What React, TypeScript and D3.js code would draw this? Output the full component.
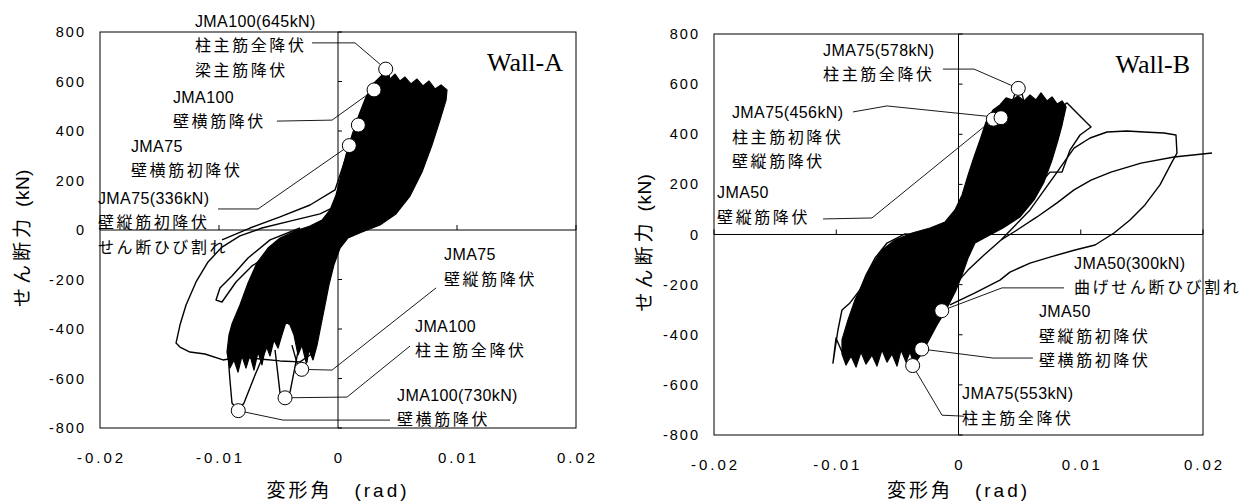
import * as d3 from 'd3';

type Pt = [number, number];

// axis ticks (shared by both walls)
const xTicks = [-0.02, -0.01, 0, 0.01, 0.02];
const xTickLabels = ['-0.02', '-0.01', '0', '0.01', '0.02'];
const yTicks = [-800, -600, -400, -200, 0, 200, 400, 600, 800];
const yTickLabels = ['-800', '-600', '-400', '-200', '0', '200', '400', '600', '800'];

// ---- Wall-A : drift angle (rad), shear force (kN)
// dense band of the many small cycles
const wallACore: Pt[] = [
  [0.00395, 638], [0.00437, 610], [0.00479, 630], [0.00521, 602], [0.00563, 618],
  [0.00613, 590], [0.00664, 610], [0.00714, 582], [0.00765, 602], [0.00815, 570],
  [0.00866, 586], [0.00916, 566], [0.00908, 525], [0.00857, 444], [0.0079, 343],
  [0.00706, 234], [0.00605, 137], [0.00487, 65], [0.00353, 20], [0.00202, -8],
  [0.00084, -32], [0.00017, -73], [-0.00034, -141], [-0.00076, -222], [-0.00109, -303],
  [-0.00143, -384], [-0.00176, -465], [-0.0021, -525], [-0.00244, -485], [-0.00269, -533],
  [-0.00303, -465], [-0.00336, -505], [-0.0037, -424], [-0.00403, -384], [-0.00437, -372],
  [-0.00471, -424], [-0.00504, -477], [-0.00538, -444], [-0.00571, -509], [-0.00605, -465],
  [-0.00639, -545], [-0.00672, -493], [-0.00706, -566], [-0.0074, -505], [-0.00773, -558],
  [-0.00807, -509], [-0.0084, -574], [-0.00874, -525], [-0.00908, -558], [-0.00933, -493],
  [-0.00916, -424], [-0.00891, -380], [-0.00824, -303], [-0.00756, -214], [-0.00681, -133],
  [-0.00588, -73], [-0.00487, -32], [-0.00361, -4], [-0.00235, 16], [-0.00134, 40],
  [-0.00067, 81], [-0.00017, 141], [0.00025, 222], [0.00067, 303], [0.00118, 384],
  [0.00176, 465], [0.00235, 537], [0.00303, 594],
];
const wallALoopBig: Pt[] = [
  [0.00059, -40], [-0.00067, -129], [-0.00134, -283], [-0.00185, -444], [-0.0021, -497],
  [-0.00319, -533], [-0.00487, -529], [-0.00655, -521], [-0.00824, -513], [-0.00966, -525],
  [-0.01118, -501], [-0.01244, -493], [-0.01328, -473], [-0.01361, -457], [-0.01328, -384],
  [-0.01277, -303], [-0.01193, -210], [-0.01092, -129], [-0.00975, -69], [-0.00824, -24],
  [-0.00639, 8], [-0.00403, 36], [-0.00151, 65], [0, 101],
];
const wallALoopNotch: Pt[] = [
  [-0.00319, 8], [-0.00571, -40], [-0.00756, -113], [-0.00891, -186], [-0.00992, -234],
  [-0.01025, -283], [-0.00975, -291], [-0.00857, -210], [-0.00723, -145], [-0.00571, -101],
  [-0.00361, -61], [-0.00067, -20],
];
const wallAReload: Pt[] = [
  [-0.00975, -40], [-0.0074, 8], [-0.00487, 53], [-0.00235, 101], [-0.00025, 162],
  [0.00059, 283], [0.00092, 315],
];
const wallATip730: Pt[] = [
  [-0.00924, -505], [-0.00908, -606], [-0.00891, -699], [-0.0084, -731], [-0.0079, -699],
  [-0.00697, -586], [-0.00597, -473],
];
const wallATipCol: Pt[] = [
  [-0.00529, -485], [-0.00487, -659], [-0.00445, -679], [-0.00403, -655], [-0.00345, -513],
  [-0.00319, -444],
];
const wallATipVert: Pt[] = [
  [-0.00387, -465], [-0.00345, -537], [-0.00303, -562], [-0.00261, -533], [-0.00235, -444],
];
const wallATip645: Pt[] = [[0.00328, 473], [0.0037, 620], [0.00401, 650], [0.0043, 625], [0.00455, 520]];
const wallATipHor: Pt[] = [[0.0027, 440], [0.0029, 540], [0.00303, 566], [0.00325, 540], [0.0034, 470]];
const wallATipFirst: Pt[] = [[0.0013, 330], [0.0016, 400], [0.00171, 424], [0.0019, 400], [0.0021, 340]];
const wallAMarks: Pt[] = [
  [0.00401, 650], [0.00303, 566], [0.00171, 424], [0.00095, 341],
  [-0.00305, -563], [-0.00445, -678], [-0.00838, -730],
];

// ---- Wall-B
const wallBCore: Pt[] = [
  [0.00438, 537], [0.00487, 553], [0.00536, 533], [0.00585, 557], [0.00634, 537],
  [0.00675, 565], [0.00724, 533], [0.00765, 549], [0.00806, 521], [0.00847, 533],
  [0.0088, 509], [0.00847, 437], [0.00814, 377], [0.00765, 297], [0.00699, 209],
  [0.00618, 138], [0.00503, 70], [0.00364, 26], [0.00241, -6], [0.00135, -34],
  [0.00078, -94], [0.00029, -162], [-0.0002, -222], [-0.00102, -301], [-0.00176, -361],
  [-0.0025, -429], [-0.00315, -485], [-0.00364, -517], [-0.00397, -469], [-0.00429, -509],
  [-0.0047, -461], [-0.00503, -525], [-0.00544, -477], [-0.00585, -509], [-0.00626, -461],
  [-0.00667, -525], [-0.00708, -481], [-0.00757, -517], [-0.00798, -469], [-0.00838, -529],
  [-0.00879, -485], [-0.0092, -521], [-0.00953, -477], [-0.00953, -421], [-0.00904, -341],
  [-0.00847, -261], [-0.00781, -194], [-0.00708, -122], [-0.00626, -62], [-0.00519, -22],
  [-0.0038, 6], [-0.00233, 26], [-0.0011, 50], [-0.00029, 98], [0.00029, 158],
  [0.00078, 237], [0.00127, 309], [0.00176, 377], [0.00225, 449], [0.00282, 497],
  [0.00339, 517], [0.00389, 545],
];
const wallBLoopWide: Pt[] = [
  [0.00348, -22], [0.00585, 98], [0.00789, 237], [0.00945, 345], [0.01076, 385],
  [0.01215, 409], [0.01378, 413], [0.01517, 409], [0.01681, 405], [0.01779, 397],
  [0.01787, 325], [0.01746, 289], [0.01648, 198], [0.01525, 118], [0.01403, 58],
  [0.01272, 6], [0.01117, -42], [0.00953, -62], [0.00748, -90], [0.00585, -114],
  [0.00421, -150], [0.00339, -182], [0.00135, -233], [-0.0007, -281],
];
const wallBLoopLast: Pt[] = [
  [0.02074, 325], [0.01763, 309], [0.01493, 285], [0.01247, 249], [0.01084, 217],
  [0.00945, 178], [0.00806, 126], [0.00642, 70], [0.00479, 18], [0.00348, -22],
  [0.00209, -82], [0.00078, -142], [-0.00029, -201], [-0.0011, -261],
];
const wallBLoopJag: Pt[] = [
  [0.00626, 178], [0.00748, 249], [0.00847, 249], [0.00912, 337], [0.00994, 397],
  [0.01084, 429], [0.01002, 469], [0.00888, 525], [0.00831, 505],
];
const wallBLoopNeg: Pt[] = [
  [0, 2], [-0.00233, -2], [-0.00438, 2], [-0.00585, -34], [-0.00683, -94],
  [-0.00757, -162], [-0.00806, -221], [-0.00888, -273], [-0.00953, -301], [-0.00986, -381],
  [-0.01011, -461], [-0.01027, -513], [-0.01002, -413], [-0.00953, -469], [-0.00904, -381],
  [-0.00863, -493],
];
const wallBTip578: Pt[] = [[0.0042, 500], [0.0046, 560], [0.00489, 583], [0.0052, 560], [0.0054, 520]];
const wallBTip456: Pt[] = [[0.0025, 420], [0.00285, 460], [0.00348, 466], [0.0038, 440]];
const wallBTipNeg: Pt[] = [[-0.0012, -290], [-0.0005, -230]];
const wallBTipNeg2: Pt[] = [[-0.0031, -440], [-0.0025, -400]];
const wallBTipNeg3: Pt[] = [[-0.0037, -510], [-0.0034, -470]];
const wallBMarks: Pt[] = [
  [0.00489, 583], [0.00285, 460], [0.00348, 466],
  [-0.00137, -304], [-0.00301, -457], [-0.00375, -523],
];

type Note = { at: Pt; lines: string[]; leader?: Pt[] };

const wallANotes: Note[] = [
  { at: [-0.01202, 844], lines: ['JMA100(645kN)', '柱主筋全降伏', '梁主筋降伏'], leader: [[-0.00218, 756], [0.00143, 756], [0.00401, 650]] },
  { at: [-0.01387, 537], lines: ['JMA100', '壁横筋降伏'], leader: [[-0.00513, 440], [-0.0005, 444], [0.00303, 566]] },
  { at: [-0.0174, 339], lines: ['JMA75', '壁横筋初降伏'] },
  { at: [-0.02017, 129], lines: ['JMA75(336kN)', '壁縦筋初降伏', 'せん断ひび割れ'], leader: [[-0.01008, 85], [-0.00672, 85], [0.00095, 341]] },
  { at: [0.00891, -101], lines: ['JMA75', '壁縦筋降伏'], leader: [[0.00824, -234], [-0.0005, -566], [-0.00305, -563]] },
  { at: [0.00647, -388], lines: ['JMA100', '柱主筋全降伏'], leader: [[0.00605, -469], [0.00076, -675], [-0.00445, -678]] },
  { at: [0.00496, -667], lines: ['JMA100(730kN)', '壁横筋降伏'], leader: [[0.00437, -768], [-0.00462, -768], [-0.00838, -730]] },
];
const wallBNotes: Note[] = [
  { at: [-0.01108, 736], lines: ['JMA75(578kN)', '柱主筋全降伏'], leader: [[-0.00127, 660], [0.00127, 660], [0.00489, 583]] },
  { at: [-0.01853, 485], lines: ['JMA75(456kN)', '柱主筋初降伏', '壁縦筋降伏'], leader: [[-0.00863, 489], [-0.00585, 513], [0.00348, 466]] },
  { at: [-0.01975, 166], lines: ['JMA50', '壁縦筋降伏'], leader: [[-0.01108, 62], [-0.00708, 66], [0.00285, 460]] },
  { at: [0.00945, -114], lines: ['JMA50(300kN)', '曲げせん断ひび割れ'], leader: [[0.00863, -213], [0.00356, -213], [-0.00137, -304]] },
  { at: [0.00658, -309], lines: ['JMA50', '壁縦筋初降伏', '壁横筋初降伏'], leader: [[0.00609, -493], [0.00282, -493], [-0.00301, -457]] },
  { at: [0.00029, -636], lines: ['JMA75(553kN)', '柱主筋全降伏'], leader: [[0.00045, -725], [-0.00135, -721], [-0.00375, -523]] },
];

const SANS = "'Liberation Sans', Arial, 'Noto Sans CJK JP', sans-serif";
const SERIF = "'Liberation Serif', 'Times New Roman', serif";
const CJK = /[\u3000-\u9fff]/;

type Frame = { left: number; right: number; top: number; bottom: number };

function Panel({ frame, core, loops, marks, notes, title, yTitleX }: {
  frame: Frame; core: Pt[]; loops: Pt[][]; marks: Pt[]; notes: Note[]; title: string; yTitleX: number;
}) {
  const x = d3.scaleLinear().domain([-0.02, 0.02]).range([frame.left, frame.right]);
  const y = d3.scaleLinear().domain([-800, 800]).range([frame.bottom, frame.top]);
  const line = d3.line<Pt>().x(d => x(d[0])).y(d => y(d[1]));
  const x0 = x(0);
  const y0 = y(0);
  const midY = (frame.top + frame.bottom) / 2;

  return (
    <g>
      <rect x={frame.left} y={frame.top} width={frame.right - frame.left} height={frame.bottom - frame.top}
        fill="none" stroke="#000" strokeWidth={1} />
      <line x1={frame.left} x2={frame.right} y1={y0} y2={y0} stroke="#000" />
      <line x1={x0} x2={x0} y1={frame.top} y2={frame.bottom} stroke="#000" />
      {yTicks.map(t => (
        <line key={'yt' + t} x1={x0} x2={x0 + 4} y1={y(t)} y2={y(t)} stroke="#000" />
      ))}
      {xTicks.map(t => (
        <line key={'xt' + t} x1={x(t)} x2={x(t)} y1={y0} y2={y0 - 5} stroke="#000" />
      ))}
      {yTicks.map((t, i) => (
        <text key={'yl' + t} x={frame.left - 14} y={y(t)} dominantBaseline="central" textAnchor="end"
          fontFamily={SANS} fontSize={14.5} letterSpacing={2}>{yTickLabels[i]}</text>
      ))}
      {xTicks.map((t, i) => (
        <text key={'xl' + t} x={x(t) + 1.5} y={frame.bottom + 29} dominantBaseline="central" textAnchor="middle"
          fontFamily={SANS} fontSize={15} letterSpacing={3}>{xTickLabels[i]}</text>
      ))}

      <path d={line(core) + 'Z'} fill="#000" stroke="#000" strokeWidth={1.2} strokeLinejoin="round" />
      {loops.map((l, i) => (
        <path key={'lp' + i} d={line(l) ?? ''} fill="none" stroke="#000" strokeWidth={1.4} strokeLinejoin="round" />
      ))}

      {notes.filter(n => n.leader).map((n, i) => (
        <path key={'ld' + i} d={line(n.leader!) ?? ''} fill="none" stroke="#000" strokeWidth={0.9} />
      ))}
      {marks.map((m, i) => (
        <circle key={'mk' + i} cx={x(m[0])} cy={y(m[1])} r={7} fill="#fff" stroke="#000" strokeWidth={1} />
      ))}
      {notes.map((n, i) => (
        <g key={'nt' + i}>
          {n.lines.map((s, j) => (
            <text key={j} x={x(n.at[0])} y={y(n.at[1]) + j * 24.5} dominantBaseline="central"
              fontFamily={SANS} fontSize={16} letterSpacing={CJK.test(s) ? 2.6 : 0.4}>{s}</text>
          ))}
        </g>
      ))}

      <text x={frame.right - 13} y={frame.top + 39} textAnchor="end" fontFamily={SERIF} fontSize={26}>{title}</text>

      <text x={(frame.left + frame.right) / 2} y={490} textAnchor="middle" dominantBaseline="central"
        fontFamily={SANS} fontSize={19} letterSpacing={3}>変形角　(rad)</text>
      <text transform={`translate(${yTitleX},${midY + 8}) rotate(-90)`} textAnchor="middle" dominantBaseline="central"
        fontFamily={SANS} fontSize={19}>
        <tspan letterSpacing={4}>せん断力</tspan>
        <tspan dx={8} letterSpacing={0.5}>(kN)</tspan>
      </text>
    </g>
  );
}

export default function App() {
  return (
    <svg width={1254} height={504} style={{ position: 'absolute', left: 0, top: 0, background: '#fff' }}>
      <Panel frame={{ left: 100, right: 576, top: 32, bottom: 428 }} core={wallACore}
        loops={[wallALoopBig, wallALoopNotch, wallAReload, wallATip730, wallATipCol, wallATipVert, wallATip645, wallATipHor, wallATipFirst]}
        marks={wallAMarks} notes={wallANotes} title="Wall-A" yTitleX={22} />
      <Panel frame={{ left: 714, right: 1203, top: 34, bottom: 435 }} core={wallBCore}
        loops={[wallBLoopWide, wallBLoopLast, wallBLoopJag, wallBLoopNeg, wallBTip578, wallBTip456, wallBTipNeg, wallBTipNeg2, wallBTipNeg3]}
        marks={wallBMarks} notes={wallBNotes} title="Wall-B" yTitleX={644} />
    </svg>
  );
}
